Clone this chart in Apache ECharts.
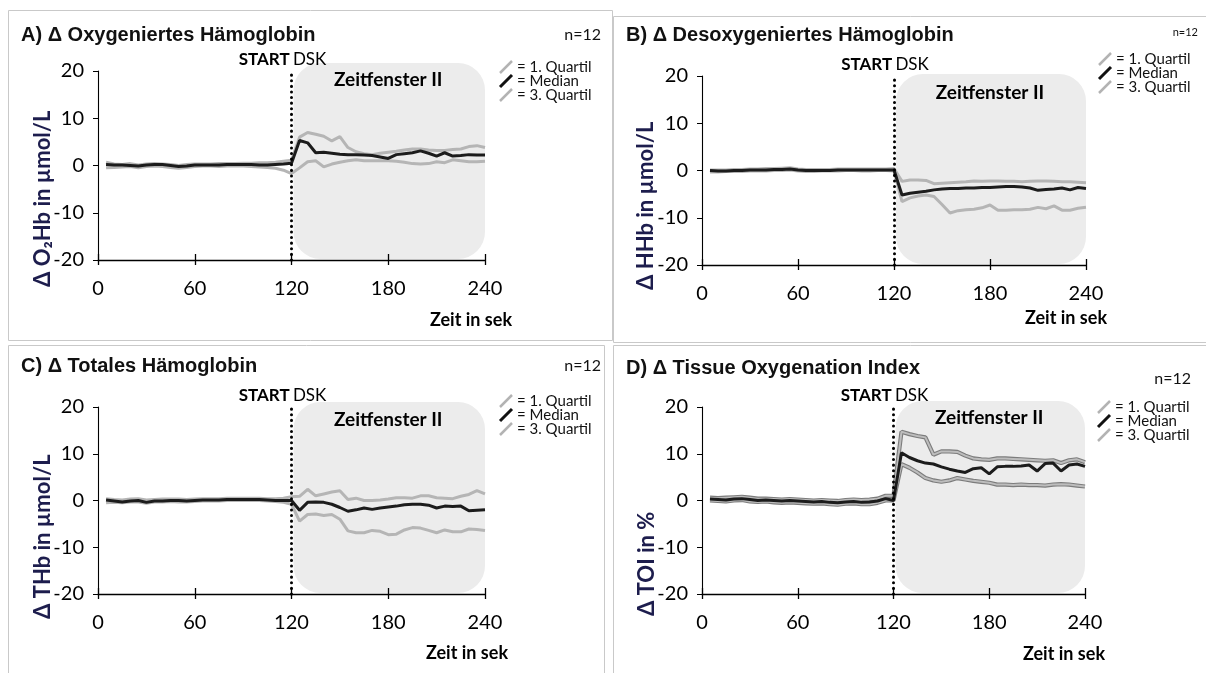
<!DOCTYPE html>
<html>
<head>
<meta charset="utf-8">
<script src="https://cdn.jsdelivr.net/npm/echarts@6.0.0/dist/echarts.min.js"></script>
<style>
  html, body { margin: 0; background: #fff; }
  #chart { width: 1206px; height: 673px; }
</style>
</head>
<body>
<div id="chart"></div>
<script>
// Zeitpunkte in Sekunden
var zeit = [5, 10, 15, 20, 25, 30, 35, 40, 45, 50, 55, 60, 65, 70, 75, 80, 85, 90, 95, 100, 105, 110, 115, 120,
            125, 130, 135, 140, 145, 150, 155, 160, 165, 170, 175, 180, 185, 190, 195, 200, 205, 210, 215, 220, 225, 230, 235, 240];

// A) O2Hb
var o2hbMedian = [0.2, 0.1, 0.1, 0.0, -0.1, 0.1, 0.2, 0.2, 0.0, -0.2, -0.1, 0.1, 0.1, 0.1, 0.1, 0.2, 0.2, 0.2, 0.2, 0.1, 0.1, 0.2, 0.3, 0.5,
                  5.3, 4.8, 2.7, 2.8, 2.6, 2.4, 2.3, 2.3, 2.2, 2.1, 1.8, 1.5, 2.3, 2.5, 2.7, 3.1, 2.6, 2.0, 2.7, 2.0, 2.1, 2.3, 2.2, 2.2];
var o2hbQ3 = [0.7, 0.3, 0.2, 0.4, 0.1, 0.3, 0.4, 0.3, 0.2, 0.0, 0.2, 0.3, 0.3, 0.3, 0.4, 0.4, 0.4, 0.5, 0.5, 0.6, 0.6, 0.7, 0.9, 1.1,
              6.0, 7.0, 6.6, 6.2, 5.2, 6.1, 3.8, 2.9, 2.5, 2.3, 2.6, 2.8, 3.0, 3.3, 3.5, 3.5, 3.3, 3.2, 3.2, 3.4, 3.5, 4.0, 4.2, 3.8];
var o2hbQ1 = [-0.5, -0.4, -0.3, -0.2, -0.5, -0.2, -0.1, -0.2, -0.4, -0.6, -0.4, -0.2, -0.1, -0.1, -0.2, -0.1, -0.1, -0.1, -0.2, -0.3, -0.4, -0.6, -1.0, -1.7,
              -0.5, 0.8, 1.0, -0.3, 0.3, 0.7, 1.0, 1.2, 1.0, 1.0, 1.0, 1.0, 0.9, 0.7, 0.4, 0.3, 0.4, 0.8, 0.6, 1.2, 1.0, 0.8, 0.8, 0.9];

// B) HHb
var hhbMedian = [0.0, -0.1, -0.1, 0.0, 0.0, 0.1, 0.1, 0.1, 0.2, 0.2, 0.3, 0.1, 0.0, 0.0, 0.0, 0.0, 0.1, 0.1, 0.1, 0.1, 0.1, 0.1, 0.1, 0.1,
                 -5.2, -4.8, -4.6, -4.4, -4.1, -3.9, -3.8, -3.8, -3.7, -3.7, -3.6, -3.6, -3.5, -3.4, -3.4, -3.5, -3.7, -4.2, -4.0, -3.9, -3.7, -4.1, -3.6, -3.8];
var hhbQ3 = [0.1, 0.1, 0.1, 0.2, 0.2, 0.3, 0.3, 0.4, 0.4, 0.5, 0.6, 0.3, 0.2, 0.2, 0.2, 0.2, 0.3, 0.3, 0.3, 0.3, 0.3, 0.3, 0.3, 0.4,
             -2.3, -2.0, -2.0, -2.1, -2.8, -2.7, -2.6, -2.5, -2.4, -2.2, -2.3, -2.2, -2.2, -2.3, -2.3, -2.4, -2.3, -2.2, -2.2, -2.3, -2.4, -2.4, -2.5, -2.6];
var hhbQ1 = [-0.3, -0.3, -0.2, -0.2, -0.2, -0.1, -0.1, -0.1, 0.0, 0.0, 0.1, -0.1, -0.2, -0.2, -0.1, -0.1, -0.1, 0.0, 0.0, -0.1, -0.1, 0.0, 0.0, -0.1,
             -6.6, -5.8, -5.4, -5.2, -5.5, -7.2, -9.0, -8.5, -8.3, -8.2, -7.9, -7.3, -8.4, -8.4, -8.3, -8.3, -8.2, -7.8, -8.1, -7.5, -8.4, -8.4, -8.0, -7.8];

// C) THb
var thbMedian = [0.1, -0.1, -0.3, -0.1, 0.0, -0.4, -0.1, -0.1, 0.0, 0.0, -0.1, 0.0, 0.1, 0.1, 0.1, 0.2, 0.2, 0.2, 0.2, 0.2, 0.1, 0.0, 0.0, 0.0,
                 -2.1, -0.4, -0.3, -0.4, -0.8, -1.5, -2.3, -2.0, -1.6, -1.9, -1.6, -1.4, -1.2, -0.9, -0.8, -0.8, -1.0, -1.6, -1.2, -1.3, -1.2, -2.2, -2.1, -2.0];
var thbQ3 = [0.4, 0.2, 0.1, 0.3, 0.4, 0.1, 0.2, 0.3, 0.3, 0.3, 0.2, 0.3, 0.4, 0.4, 0.4, 0.5, 0.5, 0.5, 0.5, 0.5, 0.4, 0.4, 0.5, 0.8,
             0.9, 2.4, 1.0, 1.4, 1.8, 2.1, 0.2, 0.5, 0.0, 0.0, 0.1, 0.3, 0.6, 0.6, 0.5, 1.0, 1.0, 0.6, 0.5, 0.4, 0.9, 1.3, 2.1, 1.4];
var thbQ1 = [-0.5, -0.4, -0.5, -0.3, -0.3, -0.6, -0.3, -0.3, -0.2, -0.3, -0.3, -0.2, -0.1, -0.1, -0.1, 0.0, 0.0, 0.0, 0.0, 0.0, -0.1, -0.2, -0.4, -0.8,
             -4.4, -3.0, -2.9, -3.2, -3.0, -4.0, -6.5, -6.9, -6.9, -6.4, -6.6, -7.3, -7.2, -6.3, -5.8, -5.9, -6.4, -6.9, -6.3, -6.7, -6.7, -6.1, -6.2, -6.4];

// D) TOI
var toiMedian = [0.3, 0.2, 0.1, 0.3, 0.4, 0.2, 0.0, 0.1, 0.0, -0.1, 0.0, -0.1, -0.2, -0.3, -0.2, -0.4, -0.5, -0.3, -0.2, -0.4, -0.3, -0.1, 0.4, 0.0,
                 10.2, 9.2, 8.5, 8.0, 7.8, 7.2, 6.7, 6.3, 6.0, 6.8, 7.0, 5.7, 7.2, 7.3, 7.3, 7.4, 7.6, 6.3, 7.9, 8.0, 6.3, 7.6, 7.8, 7.3];
var toiQ3 = [0.6, 0.5, 0.6, 0.7, 0.8, 0.6, 0.4, 0.4, 0.3, 0.2, 0.3, 0.2, 0.1, 0.0, 0.1, 0.0, -0.1, 0.1, 0.2, 0.1, 0.2, 0.4, 1.0, 1.0,
             14.7, 14.2, 13.8, 13.5, 9.8, 10.5, 10.5, 10.4, 9.6, 9.0, 8.8, 8.7, 9.0, 9.0, 8.9, 8.8, 8.7, 8.6, 8.5, 8.6, 8.0, 8.6, 8.8, 8.2];
var toiQ1 = [0.0, -0.1, -0.2, 0.0, 0.1, -0.2, -0.3, -0.2, -0.4, -0.5, -0.4, -0.5, -0.6, -0.7, -0.6, -0.8, -0.9, -0.7, -0.6, -0.8, -0.8, -0.5, 0.0, 0.0,
             7.8, 7.0, 6.0, 4.8, 4.3, 4.0, 4.3, 4.8, 4.5, 4.2, 4.0, 3.8, 3.4, 3.4, 3.3, 3.4, 3.3, 3.3, 3.2, 3.4, 3.5, 3.4, 3.2, 3.0];

var xTicks = [0, 60, 120, 180, 240];
var yTicks = [-20, -10, 0, 10, 20];
var startZeit = 120;
var legendTexts = ['= 1. Quartil', '= Median', '= 3. Quartil'];

var calibri = 'Lato, "Open Sans", sans-serif';
var arial = '"Liberation Sans", Arial, sans-serif';

var panels = [
  { title: 'A) \u0394 Oxygeniertes H\u00e4moglobin', yName: '\u0394 O\u2082Hb in \u00b5mol/L',
    grid: { left: 98, top: 71, width: 387, height: 189 },
    med: o2hbMedian, q3: o2hbQ3, q1: o2hbQ1,
    titlePos: [21, 35], nPos: [601, 35], nSize: 16, namePos: [43, 287],
    zeitPos: [512, 320], boxTop: 8, fensterDy: 9, legPos: [500, 67], outline: false },
  { title: 'B) \u0394 Desoxygeniertes H\u00e4moglobin', yName: '\u0394 HHb in \u00b5mol/L',
    grid: { left: 702, top: 76, width: 384, height: 189 },
    med: hhbMedian, q3: hhbQ3, q1: hhbQ1,
    titlePos: [626, 35], nPos: [1198, 32], nSize: 11, namePos: [646, 290],
    zeitPos: [1107, 318], boxTop: 2, fensterDy: 17, legPos: [1099, 59], outline: false },
  { title: 'C) \u0394 Totales H\u00e4moglobin', yName: '\u0394 THb in \u00b5mol/L',
    grid: { left: 98, top: 407, width: 387, height: 187 },
    med: thbMedian, q3: thbQ3, q1: thbQ1,
    titlePos: [21, 366], nPos: [601, 366], nSize: 16, namePos: [43, 619],
    zeitPos: [508, 653], boxTop: 5, fensterDy: 13, legPos: [500, 401], outline: false },
  { title: 'D) \u0394 Tissue Oxygenation Index', yName: '\u0394 TOI in %',
    grid: { left: 702, top: 407, width: 383, height: 187 },
    med: toiMedian, q3: toiQ3, q1: toiQ1,
    titlePos: [626, 368], nPos: [1191, 379], nSize: 16, namePos: [647, 616],
    zeitPos: [1105, 654], boxTop: 6, fensterDy: 11, legPos: [1098, 407], outline: true }
];

function pairs(vals) {
  var out = [];
  for (var i = 0; i < zeit.length; i++) out.push([zeit[i], vals[i]]);
  return out;
}

var grids = [], xAxes = [], yAxes = [], series = [];
panels.forEach(function (p, i) {
  grids.push(p.grid);
  xAxes.push({
    gridIndex: i, type: 'value', position: 'bottom', min: xTicks[0], max: xTicks[xTicks.length - 1], interval: 60,
    axisLine: { onZero: false, lineStyle: { color: '#000', width: 1.3 } },
    axisTick: { length: 5, lineStyle: { color: '#000', width: 1.3 } },
    axisLabel: { margin: 19, fontSize: 20, color: '#000', fontFamily: calibri },
    splitLine: { show: false }
  });
  // zweite Achse nur fuer die nach innen zeigenden Ticks
  xAxes.push({
    gridIndex: i, type: 'value', position: 'bottom', min: 0, max: 240, interval: 60,
    axisLine: { show: false, onZero: false },
    axisTick: { inside: true, length: 6, lineStyle: { color: '#000', width: 1.3 } },
    axisLabel: { show: false }, splitLine: { show: false }
  });
  yAxes.push({
    gridIndex: i, type: 'value', min: yTicks[0], max: yTicks[yTicks.length - 1], interval: 10,
    axisLine: { show: true, lineStyle: { color: '#000', width: 1.1 } },
    axisTick: { show: true, length: 5, lineStyle: { color: '#000' } },
    axisLabel: { margin: 14, fontSize: 20, color: '#000', fontFamily: calibri },
    splitLine: { show: false }
  });
  var xi = i * 2;
  [p.q1, p.q3].forEach(function (q) {
    if (p.outline) {
      series.push({ type: 'line', xAxisIndex: xi, yAxisIndex: i, data: pairs(q), symbol: 'none',
        lineStyle: { color: '#7c7c7c', width: 4.2 }, z: 2, silent: true, animation: false });
      series.push({ type: 'line', xAxisIndex: xi, yAxisIndex: i, data: pairs(q), symbol: 'none',
        lineStyle: { color: '#bdbdbd', width: 2 }, z: 3, silent: true, animation: false });
    } else {
      series.push({ type: 'line', xAxisIndex: xi, yAxisIndex: i, data: pairs(q), symbol: 'none',
        lineStyle: { color: '#b5b5b5', width: 3 }, z: 3, silent: true, animation: false });
    }
  });
  series.push({
    type: 'line', xAxisIndex: xi, yAxisIndex: i, data: pairs(p.med), symbol: 'none',
    lineStyle: { color: '#1c1c1c', width: 3 }, z: 4, silent: true, animation: false,
    markLine: {
      silent: true, symbol: ['none', 'none'], label: { show: false }, animation: false,
      lineStyle: { color: '#000', width: 3, type: [0.1, 5.5], cap: 'round' },
      data: [{ xAxis: startZeit }]
    }
  });
});

var chart = echarts.init(document.getElementById('chart'));
chart.setOption({
  animation: false,
  grid: grids, xAxis: xAxes, yAxis: yAxes, series: series
});

// Beschriftungen, Zeitfenster und Legenden
var g = [];
var frame = { stroke: '#c9c9c9', lineWidth: 1, fill: null };
g.push({ type: 'rect', shape: { x: 8.5, y: 10.5, width: 604, height: 330 }, style: frame, silent: true });
g.push({ type: 'rect', shape: { x: 613.5, y: 16.5, width: 600, height: 326 }, style: frame, silent: true });
g.push({ type: 'rect', shape: { x: 8.5, y: 345.5, width: 596, height: 340 }, style: frame, silent: true });
g.push({ type: 'rect', shape: { x: 613.5, y: 345.5, width: 600, height: 340 }, style: frame, silent: true });

panels.forEach(function (p, i) {
  var tl = chart.convertToPixel({ gridIndex: i }, [startZeit, 20]);
  var br = chart.convertToPixel({ gridIndex: i }, [240, -20]);
  var mid = chart.convertToPixel({ gridIndex: i }, [180, 20]);
  g.push({ type: 'rect', z: -10, silent: true,
    shape: { x: tl[0] + 2, y: tl[1] - p.boxTop, width: br[0] - tl[0] - 2, height: br[1] - tl[1] + p.boxTop - 1, r: 27 },
    style: { fill: '#ececec' } });
  g.push({ type: 'text', x: mid[0], y: tl[1] + p.fensterDy, z: 50, silent: true,
    style: { text: 'Zeitfenster II', font: 'bold 19px ' + calibri, fill: '#000', align: 'center', verticalAlign: 'middle' } });
  g.push({ type: 'text', x: tl[0] - 9, y: tl[1] - 11, z: 50, silent: true,
    style: { text: '{b|START} {r|DSK}', align: 'center', verticalAlign: 'middle',
      rich: { b: { font: 'bold 17px ' + calibri, fill: '#000' }, r: { font: '17px ' + calibri, fill: '#000' } } } });
  g.push({ type: 'text', x: p.titlePos[0], y: p.titlePos[1], z: 50, silent: true,
    style: { text: p.title, font: 'bold 20px ' + arial, fill: '#111', verticalAlign: 'middle' } });
  g.push({ type: 'text', x: p.nPos[0], y: p.nPos[1], z: 50, silent: true,
    style: { text: 'n=12', font: p.nSize + 'px ' + calibri, fill: '#111', align: 'right', verticalAlign: 'middle' } });
  g.push({ type: 'text', x: p.zeitPos[0], y: p.zeitPos[1], z: 50, silent: true,
    style: { text: 'Zeit in sek', font: 'bold 18px ' + calibri, fill: '#000', align: 'right', verticalAlign: 'middle' } });
  g.push({ type: 'text', x: p.namePos[0], y: p.namePos[1], rotation: Math.PI / 2, z: 50, silent: true,
    style: { text: p.yName, font: 'bold 22px ' + calibri, fill: '#1d1d4d', align: 'left', verticalAlign: 'middle' } });
  var colors = ['#b3b3b3', '#111', '#b3b3b3'];
  legendTexts.forEach(function (t, k) {
    var lx = p.legPos[0], ly = p.legPos[1] + k * 14;
    g.push({ type: 'line', z: 50, silent: true,
      shape: { x1: lx, y1: ly + 6, x2: lx + 12, y2: ly - 6 },
      style: { stroke: colors[k], lineWidth: k === 1 ? 3 : 2.5 } });
    g.push({ type: 'text', x: lx + 17, y: ly, z: 50, silent: true,
      style: { text: t, font: '15px ' + calibri, fill: '#111', verticalAlign: 'middle' } });
  });
});
chart.setOption({ graphic: { elements: g } });
</script>
</body>
</html>
